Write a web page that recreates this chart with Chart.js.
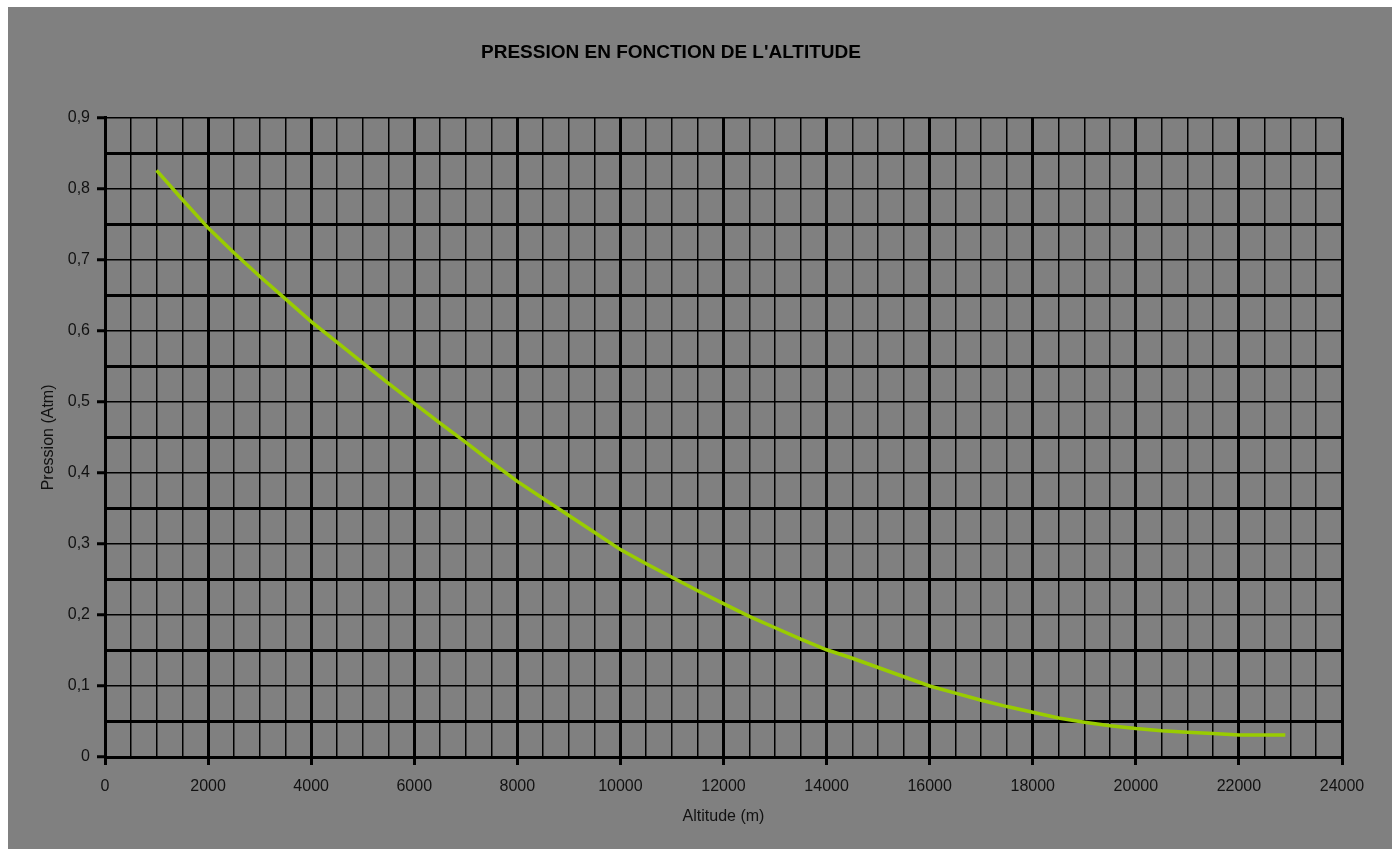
<!DOCTYPE html>
<html>
<head>
<meta charset="utf-8">
<script src="https://cdn.jsdelivr.net/npm/chart.js@4/dist/chart.umd.min.js"></script>
<style>
  html, body { margin: 0; padding: 0; background: #fff; }
  #wrap { position: absolute; left: 0; top: 0; width: 1398px; height: 849px; }
</style>
</head>
<body>
<div id="wrap"><canvas id="chart" width="1398" height="849"></canvas></div>
<script>
// altitude (m) and pressure (atm)
const altitudes = [1000, 1500, 2000, 2500, 3000, 3500, 4000, 4500, 5000, 5500, 6000, 6500, 7000, 7500, 8000, 8500, 9000, 9500, 10000, 10500, 11000, 11500, 12000, 12500, 13000, 13500, 14000, 14500, 15000, 15500, 16000, 16500, 17000, 17500, 18000, 18500, 19000, 19500, 20000, 20500, 21000, 21500, 22000, 22500, 22900];
const pressures = [0.826, 0.785, 0.745, 0.710, 0.677, 0.645, 0.613, 0.584, 0.555, 0.526, 0.498, 0.470, 0.443, 0.415, 0.388, 0.364, 0.340, 0.316, 0.292, 0.272, 0.253, 0.234, 0.216, 0.198, 0.182, 0.166, 0.151, 0.139, 0.126, 0.113, 0.100, 0.090, 0.080, 0.071, 0.063, 0.055, 0.049, 0.044, 0.040, 0.037, 0.035, 0.033, 0.031, 0.031, 0.031];
const xLabels = [0, 2000, 4000, 6000, 8000, 10000, 12000, 14000, 16000, 18000, 20000, 22000, 24000];
const yLabels = ['0', '0,1', '0,2', '0,3', '0,4', '0,5', '0,6', '0,7', '0,8', '0,9'];

const FONT = 'Liberation Sans, Arial, sans-serif';

const grayBg = {
    id: 'grayBg',
    beforeDraw(chart) {
        const ctx = chart.ctx;
        ctx.save();
        ctx.fillStyle = '#808080';
        ctx.fillRect(8, 7, 1384, 842);
        ctx.restore();
    }
};

const isMajorX = v => Math.round(v) % 2000 === 0;
const hund = v => Math.round(v * 100);

new Chart(document.getElementById('chart'), {
    type: 'line',
    data: {
        datasets: [{
            data: altitudes.map((a, i) => ({ x: a, y: pressures[i] })),
            borderColor: '#99cc00',
            borderWidth: 3.5,
            pointRadius: 0,
            tension: 0,
            fill: false
        }]
    },
    options: {
        responsive: false,
        devicePixelRatio: 1,
        animation: false,
        layout: { padding: { left: 0, right: 56, top: 0, bottom: 0 } },
        plugins: {
            legend: { display: false },
            tooltip: { enabled: false },
            title: {
                display: true,
                text: "PRESSION EN FONCTION DE L'ALTITUDE",
                color: '#000',
                font: { family: FONT, size: 19, weight: 'bold' },
                padding: { top: 41, bottom: 54 }
            }
        },
        scales: {
            x: {
                type: 'linear',
                min: 0, max: 24000,
                afterFit: s => { s.height = 92; },
                ticks: {
                    stepSize: 500,
                    autoSkip: false,
                    maxRotation: 0,
                    padding: 12,
                    color: '#111',
                    font: { family: FONT, size: 16 },
                    callback: v => isMajorX(v) ? String(xLabels[Math.round(v) / 2000]) : ''
                },
                grid: {
                    color: '#000',
                    lineWidth: c => isMajorX(c.tick.value) ? 3 : 1.5,
                    tickLength: 8,
                    tickWidth: 3,
                    tickColor: c => isMajorX(c.tick.value) ? '#000' : 'rgba(0,0,0,0)'
                },
                border: { display: true, color: '#000', width: 3 },
                title: {
                    display: true,
                    text: 'Altitude (m)',
                    color: '#111',
                    font: { family: FONT, size: 16 },
                    padding: { top: 0, bottom: 23 }
                }
            },
            y: {
                min: 0, max: 0.9,
                afterFit: s => { s.width = 105; },
                ticks: {
                    stepSize: 0.05,
                    autoSkip: false,
                    padding: 7,
                    color: '#111',
                    font: { family: FONT, size: 16 },
                    callback: v => hund(v) % 10 === 0 ? yLabels[hund(v) / 10] : ''
                },
                grid: {
                    color: '#000',
                    lineWidth: c => hund(c.tick.value) % 10 === 5 ? 3 : 1.5,
                    tickLength: 8,
                    tickWidth: 3,
                    tickColor: c => hund(c.tick.value) % 10 === 0 ? '#000' : 'rgba(0,0,0,0)'
                },
                border: { display: true, color: '#000', width: 3 },
                title: {
                    display: true,
                    text: 'Pression (Atm)',
                    color: '#111',
                    font: { family: FONT, size: 16 },
                    padding: { top: 39, bottom: 0 }
                }
            }
        }
    },
    plugins: [grayBg]
});
</script>
</body>
</html>
